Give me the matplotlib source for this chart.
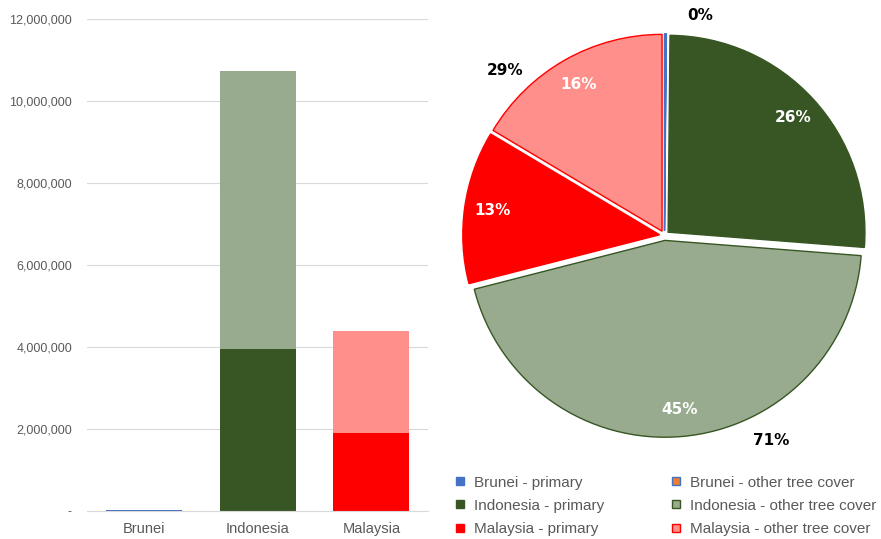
import matplotlib
matplotlib.use("Agg")
import matplotlib.pyplot as plt
from matplotlib.lines import Line2D
from matplotlib.ticker import FuncFormatter, MultipleLocator

countries = ["Brunei", "Indonesia", "Malaysia"]
primary = [18000, 3950000, 1900000]
other_cover = [5000, 6780000, 2490000]

primary_colors = ["#4472C4", "#375623", "#FF0000"]
other_colors = ["#ED7D31", "#98AB8E", "#FF8F8A"]
edge_colors = ["#4472C4", "#375623", "#FF0000"]

# pie order: each country's primary then other tree cover
pie_labels = ["Brunei - primary", "Brunei - other tree cover",
              "Indonesia - primary", "Indonesia - other tree cover",
              "Malaysia - primary", "Malaysia - other tree cover"]
pie_values = [primary[0], other_cover[0], primary[1], other_cover[1],
              primary[2], other_cover[2]]
pie_colors = [primary_colors[0], other_colors[0], primary_colors[1],
              other_colors[1], primary_colors[2], other_colors[2]]
pie_edges = [edge_colors[0], edge_colors[0], edge_colors[1], edge_colors[1],
             edge_colors[2], edge_colors[2]]

# country totals written outside the pie
total_labels = ["0%", "71%", "29%"]
total_pos = [(0.18, 1.12), (0.54, -1.04), (-0.81, 0.84)]

grey = "#595959"

fig = plt.figure(figsize=(8.81, 5.39), dpi=100)

# ---- stacked bars
ax = fig.add_axes([0.099, 0.052, 0.387, 0.913])
x = range(len(countries))
ax.bar(x, primary, width=0.67, color=primary_colors, zorder=2)
ax.bar(x, other_cover, width=0.67, bottom=primary, color=other_colors, zorder=2)
ax.set_xlim(-0.5, 2.5)
ax.set_ylim(0, 12000000)
ax.yaxis.set_major_locator(MultipleLocator(2000000))
ax.yaxis.set_major_formatter(FuncFormatter(lambda v, p: "-" if v == 0 else f"{v:,.0f}"))
ax.set_xticks(list(x))
ax.set_xticklabels(countries)
ax.grid(axis="y", color="#D9D9D9", linewidth=0.8, zorder=0)
for s in ["top", "right", "left"]:
    ax.spines[s].set_visible(False)
ax.spines["bottom"].set_color("#D9D9D9")
ax.tick_params(axis="y", length=0, pad=11, labelsize=9, labelcolor=grey)
ax.tick_params(axis="x", length=0, pad=8, labelsize=10.5, labelcolor=grey)
for lab in ax.get_yticklabels() + ax.get_xticklabels():
    lab.set_family("Liberation Sans")

# ---- pie
ax2 = fig.add_axes([0.5085, 0.1614, 0.4915, 0.8034])


def pct(p):
    return "" if p < 1 else f"{p:.0f}%"


wedges, texts, autotexts = ax2.pie(
    pie_values, colors=pie_colors, startangle=90, counterclock=False,
    explode=[0.025] * len(pie_values), autopct=pct, pctdistance=0.86,
    wedgeprops=dict(linewidth=1, edgecolor="white"),
)
for w, ec in zip(wedges, pie_edges):
    w.set_edgecolor(ec)
for t in autotexts:
    t.set_color("white")
    t.set_fontsize(11)
    t.set_fontweight("bold")
for lab, (tx, ty) in zip(total_labels, total_pos):
    ax2.text(tx, ty, lab, ha="center", va="center", fontsize=11,
             fontweight="bold", color="black")
ax2.set_xlim(-1.1, 1.1)
ax2.set_ylim(-1.1, 1.1)
ax2.set_aspect("auto")
ax2.axis("off")

handles = [Line2D([], [], linestyle="none", marker="s", markersize=6,
                  markerfacecolor=c, markeredgecolor=e, markeredgewidth=1)
           for c, e in zip(pie_colors, pie_edges)]
# column order: primaries first, then other tree cover
order = [0, 2, 4, 1, 3, 5]
leg = fig.legend([handles[i] for i in order], [pie_labels[i] for i in order],
                 ncol=2, loc="lower left", bbox_to_anchor=(0.503, -0.014),
                 frameon=False, fontsize=11, handlelength=0.8,
                 handletextpad=0.5, columnspacing=4.3, labelspacing=0.6,
                 borderaxespad=0.3)
for t in leg.get_texts():
    t.set_color(grey)
    t.set_family("Liberation Sans")

fig.savefig("out.png", dpi=100)
